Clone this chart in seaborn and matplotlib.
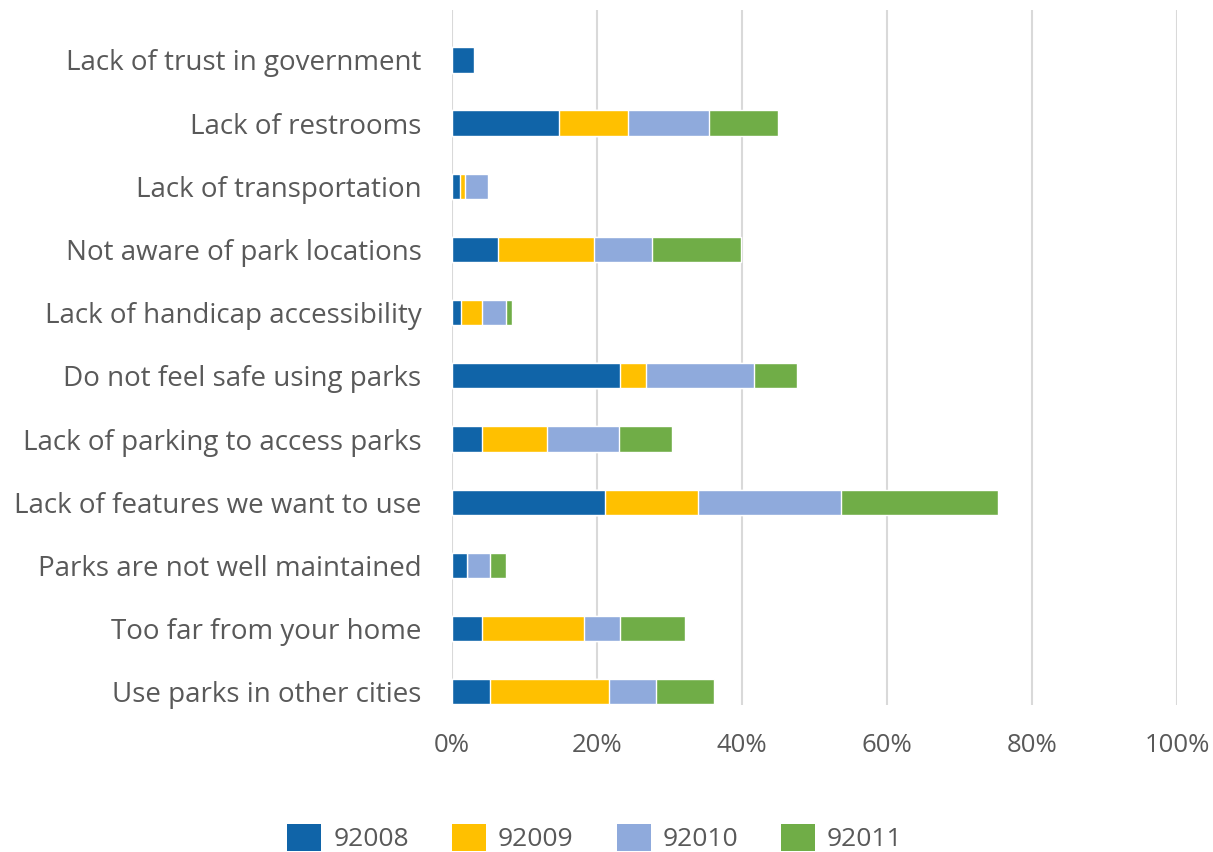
import numpy as np
import pandas as pd
import matplotlib
matplotlib.use("Agg")
import matplotlib.pyplot as plt
import seaborn as sns
from matplotlib.patches import Patch

# Reasons for not using parks, share of respondents by ZIP code
reasons = [
    "Lack of trust in government",
    "Lack of restrooms",
    "Lack of transportation",
    "Not aware of park locations",
    "Lack of handicap accessibility",
    "Do not feel safe using parks",
    "Lack of parking to access parks",
    "Lack of features we want to use",
    "Parks are not well maintained",
    "Too far from your home",
    "Use parks in other cities",
]
zips = ["92008", "92009", "92010", "92011"]
z92008 = [3.0, 14.7, 1.15, 6.4, 1.2, 23.2, 4.2, 21.1, 2.0, 4.2, 5.3]
z92009 = [0.0, 9.6, 0.6, 13.2, 3.0, 3.6, 8.9, 12.8, 0.0, 14.0, 16.3]
z92010 = [0.0, 11.2, 3.25, 8.0, 3.3, 14.8, 10.0, 19.7, 3.2, 5.0, 6.6]
z92011 = [0.0, 9.4, 0.0, 12.3, 0.8, 6.0, 7.2, 21.7, 2.3, 9.0, 7.9]
colors = ["#1064A8", "#FFC000", "#8FAADC", "#70AD47"]
xticks = [0, 20, 40, 60, 80, 100]

df = pd.DataFrame({"reason": reasons, "92008": z92008, "92009": z92009,
                   "92010": z92010, "92011": z92011})

sns.set_style("white")
plt.rcParams["font.family"] = ["Open Sans", "DejaVu Sans"]
text_color = "#595959"

fig = plt.figure(figsize=(12.13, 8.52), dpi=100)
ax = fig.add_axes([452 / 1213, 1 - 705 / 852, 725 / 1213, 695 / 852])

# Stacked bars: draw cumulative totals from the outermost layer inward
cum = df[zips].cumsum(axis=1)
for z, c in reversed(list(zip(zips, colors))):
    sns.barplot(x=cum[z], y=df["reason"], order=reasons, orient="h",
                color=c, width=0.40, saturation=1, ax=ax, zorder=3)

ax.set_xlim(0, 100)
ax.set_ylim(10.21, -0.79)
ax.set_xticks(xticks)
ax.set_xticklabels([f"{t}%" for t in xticks])
ax.set_xlabel("")
ax.set_ylabel("")
ax.grid(axis="x", color="#D9D9D9", linewidth=1.5, zorder=0)
ax.grid(axis="y", visible=False)
for s in ax.spines.values():
    s.set_visible(False)
ax.tick_params(axis="x", length=0, pad=20, labelsize=18.5, labelcolor=text_color)
ax.tick_params(axis="y", length=0, pad=22, labelsize=20, labelcolor=text_color)

handles = [Patch(facecolor=c, edgecolor="none", label=z) for z, c in zip(zips, colors)]
fig.legend(handles=handles, loc="center", bbox_to_anchor=(595 / 1213, 1 - 838 / 852),
           ncol=4, frameon=False, fontsize=19, labelcolor=text_color,
           handlelength=1.29, handleheight=1.2, handletextpad=0.45, columnspacing=1.63,
           borderpad=0)

fig.savefig("out.png", dpi=100)
